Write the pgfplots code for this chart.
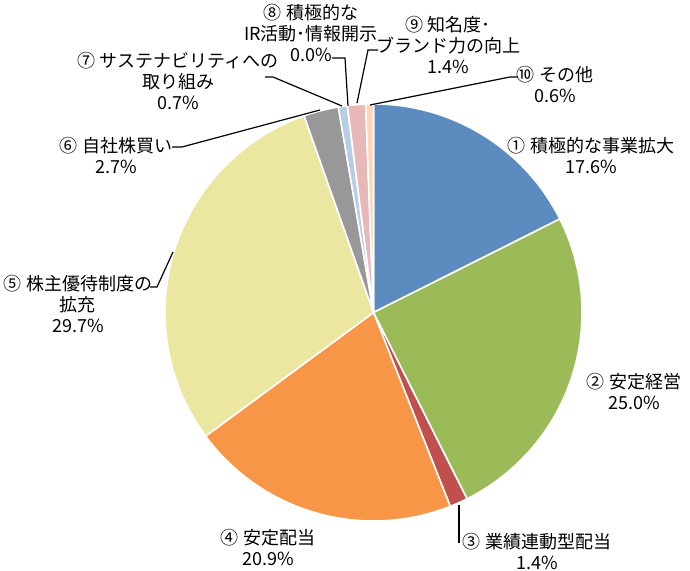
\documentclass[border=0pt]{standalone}
\usepackage{pgfplots}
\usepackage{pgfplotstable}
\pgfplotsset{compat=1.18}
\usepackage{fontspec}
\setmainfont{Noto Sans CJK JP}

\definecolor{s1}{HTML}{5B8BBF}
\definecolor{s2}{HTML}{9BBB59}
\definecolor{s3}{HTML}{C0504D}
\definecolor{s4}{HTML}{F79646}
\definecolor{s5}{HTML}{EBE7A0}
\definecolor{s6}{HTML}{989898}
\definecolor{s7}{HTML}{B7CCE6}
\definecolor{s8}{HTML}{93CDDD}
\definecolor{s9}{HTML}{E6B9B8}
\definecolor{s10}{HTML}{FCD5B4}

% share of answers, clockwise from 12 o'clock
\pgfplotstableread{
item val col
1 17.6 s1
2 25.0 s2
3 1.4 s3
4 20.9 s4
5 29.7 s5
6 2.7 s6
7 0.7 s7
8 0.0 s8
9 1.4 s9
10 0.6 s10
}\piedata

\begin{document}
\begin{tikzpicture}
\begin{axis}[
    width=517.5pt, height=428.25pt,
    scale only axis,
    xmin=0, xmax=690, ymin=0, ymax=571,
    hide axis,
    clip=false,
]
\path (axis cs:0,0) rectangle (axis cs:690,571);

\pgfplotsextra{
  \def\R{156.4pt}
  \gdef\cum{0}
  \foreach \i in {0,...,9}{
    \pgfplotstablegetelem{\i}{val}\of\piedata
    \pgfmathsetmacro\aa{90-3.6*\cum}
    \pgfmathsetmacro\bb{90-3.6*(\cum+\pgfplotsretval)}
    \pgfmathsetmacro\newcum{\cum+\pgfplotsretval}
    \xdef\cum{\newcum}
    \pgfplotstablegetelem{\i}{col}\of\piedata
    \fill[fill=\pgfplotsretval, draw=white, line width=1.2pt, line join=round]
      (axis cs:373.5,258.5) -- ++(\aa:\R) arc[start angle=\aa, end angle=\bb, radius=\R] -- cycle;
  }
}

% leader lines
\draw[line width=0.9pt] (axis cs:332,513) -- (axis cs:345,513) -- (axis cs:348,465);
\draw[line width=0.9pt] (axis cs:378,521) -- (axis cs:368,521) -- (axis cs:357,468);
\draw[line width=0.9pt] (axis cs:518,494) -- (axis cs:510,494) -- (axis cs:370,466);
\draw[line width=0.9pt] (axis cs:265,494) -- (axis cs:273,494) -- (axis cs:342,465);
\draw[line width=0.9pt] (axis cs:172,424) -- (axis cs:182,424) -- (axis cs:320,461);
\draw[line width=0.9pt] (axis cs:150,284) -- (axis cs:157,284) -- (axis cs:173,319);
\draw[line width=0.9pt] (axis cs:459,66) -- (axis cs:459,28);

% labels
\tikzset{lbl/.style={align=center, inner sep=0pt, font=\fontsize{13.5}{15.75}\selectfont}}
\node[lbl] at (axis cs:591,415) {① 積極的な事業拡大\\17.6\%};
\node[lbl] at (axis cs:634,179) {② 安定経営\\25.0\%};
\node[lbl] at (axis cs:537,19) {③ 業績連動型配当\\1.4\%};
\node[lbl] at (axis cs:268,23) {④ 安定配当\\20.9\%};
\node[lbl] at (axis cs:78,267) {⑤ 株主優待制度の\\拡充\\29.7\%};
\node[lbl] at (axis cs:116,415) {⑥ 自社株買い\\2.7\%};
\node[lbl] at (axis cs:178,490) {⑦ サステナビリティへの\\取り組み\\0.7\%};
\node[lbl] at (axis cs:311,538) {⑧ 積極的な\\IR活動･情報開示\\0.0\%};
\node[lbl] at (axis cs:448,526) {⑨ 知名度･\\ブランド力の向上\\1.4\%};
\node[lbl] at (axis cs:555,486) {⑩ その他\\0.6\%};
\end{axis}
\end{tikzpicture}
\end{document}
